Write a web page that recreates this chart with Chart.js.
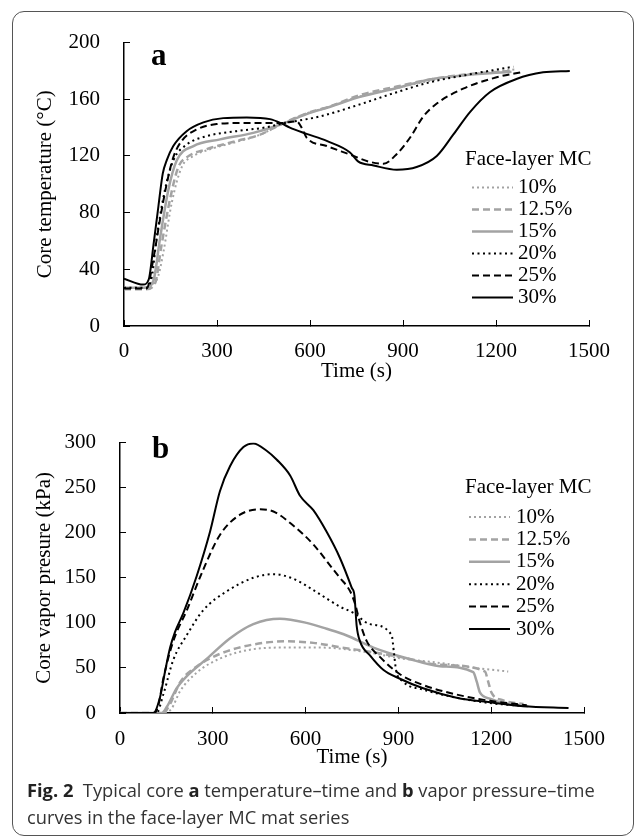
<!DOCTYPE html>
<html>
<head>
<meta charset="utf-8">
<script src="https://cdn.jsdelivr.net/npm/chart.js@4.4.1/dist/chart.umd.min.js"></script>
<style>
  body { margin: 0; background: #fff; width: 636px; height: 839px; position: relative; overflow: hidden; }
  #frame { position: absolute; left: 12px; top: 11px; width: 622px; height: 825px; box-sizing: border-box;
           border: 1.5px solid #555; border-radius: 12px; }
  #tempChart { position: absolute; left: 0; top: 0; }
  #presChart { position: absolute; left: 0; top: 400px; }
  #caption { position: absolute; left: 27px; top: 776px; width: 605px; font-family: "Open Sans"; font-size: 18.3px;
             line-height: 27px; color: #333; white-space: nowrap; }
  #caption b { color: #222; }
</style>
</head>
<body>
<div id="frame"></div>
<canvas id="tempChart" width="636" height="400"></canvas>
<canvas id="presChart" width="636" height="380"></canvas>
<div id="caption"><b>Fig. 2</b>&nbsp; Typical core <b>a</b> temperature–time and <b>b</b> vapor pressure–time<br>curves in the face-layer MC mat series</div>

<script>
// --- Series labels ---
const seriesLabels = ["10%", "12.5%", "15%", "20%", "25%", "30%"];
const legendTitle = "Face-layer MC";

// --- Core temperature (°C) vs time (s) ---
const temp10 = [[0,27],[60,27],[90,29],[110,35],[127,52],[154,87],[186,112],[224,120],[267,124],[363,130],[439,135],[503,142],[589,150],[665,155],[761,162],[880,168],[987,173],[1100,177],[1260,181]];
const temp125 = [[0,26],[70,26],[100,30],[121,57],[148,89],[175,112],[202,119],[267,124.8],[363,130.6],[439,135],[503,142],[589,150],[665,155],[761,163],[880,169],[987,174],[1100,177.5],[1250,180]];
const temp15 = [[0,27],[70,27],[95,32],[116,61.5],[143,96],[170,116.8],[224,127],[310,131.7],[417,136.3],[503,142],[589,149.5],[665,154.7],[761,161.7],[880,168],[987,174],[1100,177],[1250,179.4]];
const temp20 = [[0,27],[70,27],[90,35],[105,61.5],[132,96],[159,116.8],[202,128],[267,134],[363,137.5],[460,140.3],[514,143],[632,147.9],[761,156.4],[880,165],[987,172],[1100,177],[1256,183]];
const temp25 = [[0,26.5],[73,26.5],[95,47.7],[116,75],[138,100.6],[159,119],[186,130.6],[234,138.6],[299,142.5],[374,143.2],[503,143.2],[557,144.4],[573,140],[589,133],[654,127],[729,121],[790,116],[837,114.5],[880,121.4],[923,133],[966,148],[1009,157],[1094,167.5],[1202,175.5],[1288,179.4]];
const temp30 = [[0,33.4],[62,29.2],[80,33],[95,57],[111,84.5],[125,107.5],[138,117],[159,127],[202,137.5],[256,143.7],[320,146.7],[396,147.2],[471,146],[508,143],[535,140],[589,135.6],[654,130.6],[729,122.5],[756,116],[805,113.3],[880,110.3],[944,112.2],[1009,120],[1062,135],[1116,151],[1180,165],[1266,174.3],[1352,179],[1438,180]];

// --- Core vapor pressure (kPa) vs time (s) ---
const pres10 = [[0,0],[145,0],[167,5],[194,24],[248,44.8],[323,60.4],[431,70.8],[539,72.6],[647,72.6],[797,67.5],[900,61],[1034,55.5],[1142,50.3],[1255,46]];
const pres125 = [[0,0],[140,0],[162,10],[194,34],[248,51.7],[323,65.6],[431,76],[539,79.5],[625,77.8],[711,73],[819,67.4],[927,60.8],[1034,53.5],[1180,46],[1190,35],[1201,22.6],[1239,14],[1304,9.9]];
const pres15 = [[0,0],[135,0],[151,6.6],[183,27.4],[216,41],[280,60],[356,83],[431,98.6],[517,104.5],[603,100],[668,93.4],[733,86],[819,72.6],[927,60.8],[1034,52],[1142,45.4],[1153,35],[1164,22.6],[1196,15.9],[1250,9.9],[1320,7.5]];
const pres20 = [[0,0],[118,0],[140,20.5],[172,58.7],[216,86.5],[269,114],[345,135],[431,150],[496,154],[560,149],[647,131.6],[711,118],[755,111],[808,98.6],[878,86.5],[886,65.6],[892,48.6],[916,34.7],[980,26],[1088,17],[1196,11],[1315,7.6]];
const pres25 = [[0,0],[112,0],[125,10],[140,38],[172,79.5],[216,114],[269,159],[323,197.5],[388,220],[453,226],[496,223.6],[560,208],[625,187],[690,159],[711,150],[744,135],[760,121],[776,100],[798,79.5],[841,62],[905,43],[980,31],[1088,20.5],[1196,13.5],[1315,8.7]];
const pres30 = [[0,0],[108,0],[129,17],[145,45],[162,72.6],[178,90],[205,111],[248,152],[291,201],[323,246],[356,274],[399,295],[431,299],[474,291],[507,281],[550,263.5],[582,241],[625,225],[668,201],[711,172],[749,139],[758,130],[765,97],[776,79.5],[808,64],[851,48],[905,38],[980,27.4],[1088,17],[1196,11.8],[1304,7.6],[1450,5.6]];

// --- Estilos de linea ---
const GRAY = "#a3a3a3";
const styles = [
  { color: GRAY, width: 2, dash: [2, 3] },
  { color: GRAY, width: 2.5, dash: [7, 4] },
  { color: GRAY, width: 2.5, dash: [] },
  { color: "#000", width: 2, dash: [2, 3.5] },
  { color: "#000", width: 2, dash: [7, 4] },
  { color: "#000", width: 2, dash: [] },
];

const SERIF = '"Liberation Serif", serif';

function makeDatasets(series) {
  return series.map((pts, i) => ({
    label: seriesLabels[i],
    data: pts.map(p => ({ x: p[0], y: p[1] })),
    borderColor: styles[i].color,
    borderWidth: styles[i].width,
    borderDash: styles[i].dash,
    pointRadius: 0,
    fill: false,
    cubicInterpolationMode: "monotone",
    order: 5 - i,
  }));
}

// leyenda + letra del panel
const panelPlugin = {
  id: "panelLegend",
  afterDatasetsDraw(chart, args, o) {
    const ctx = chart.ctx;
    ctx.save();
    ctx.fillStyle = "#000";
    ctx.textBaseline = "middle";
    ctx.textAlign = "left";
    ctx.font = "21px " + SERIF;
    ctx.fillText(legendTitle, o.x, o.titleY);
    chart.data.datasets.forEach((ds, i) => {
      const y = o.y0 + i * o.step;
      ctx.beginPath();
      ctx.strokeStyle = ds.borderColor;
      ctx.lineWidth = ds.borderWidth;
      ctx.setLineDash(ds.borderDash);
      ctx.moveTo(o.lineX0, y);
      ctx.lineTo(o.lineX1, y);
      ctx.stroke();
      ctx.setLineDash([]);
      ctx.fillText(ds.label, o.textX, y);
    });
    ctx.font = "bold 31px " + SERIF;
    ctx.textBaseline = "alphabetic";
    ctx.fillText(o.letter, o.letterX, o.letterY);
    ctx.restore();
  }
};

function makeChart(id, series, cfg) {
  return new Chart(document.getElementById(id), {
    type: "line",
    data: { datasets: makeDatasets(series) },
    plugins: [panelPlugin],
    options: {
      responsive: false,
      animation: false,
      devicePixelRatio: 1,
      layout: { padding: cfg.padding },
      plugins: { legend: { display: false }, tooltip: { enabled: false }, panelLegend: cfg.legend },
      scales: {
        x: {
          type: "linear", min: 0, max: 1500,
          ticks: { stepSize: 300, color: "#000", font: { family: SERIF, size: 21 }, padding: cfg.xPad, maxRotation: 0,
                   callback: v => String(v) },
          grid: { drawOnChartArea: false, tickLength: -6, color: "#000", lineWidth: 1 },
          border: { color: "#000", width: 1.5 },
          title: { display: true, text: "Time (s)", color: "#000", font: { family: SERIF, size: 21 }, padding: { top: 0, bottom: cfg.xTitlePad } },
          afterFit: s => { s.height = cfg.xHeight; }
        },
        y: {
          type: "linear", min: 0, max: cfg.yMax,
          ticks: { stepSize: cfg.yStep, color: "#000", font: { family: SERIF, size: 21 }, padding: 30,
                   callback: v => String(v) },
          grid: { drawOnChartArea: false, tickLength: -6, color: "#000", lineWidth: 1 },
          border: { color: "#000", width: 1.5 },
          title: { display: true, text: cfg.yTitle, color: "#000", font: { family: SERIF, size: 21 }, padding: { top: cfg.yTitlePad, bottom: 0 } },
          afterFit: s => { s.width = cfg.yWidth; }
        }
      }
    }
  });
}

makeChart("tempChart", [temp10, temp125, temp15, temp20, temp25, temp30], {
  padding: { left: 0, top: 37, right: 47, bottom: 0 },
  xHeight: 74, xPad: 19, xTitlePad: 16,
  yWidth: 124, yMax: 200, yStep: 40, yTitle: "Core temperature (°C)", yTitlePad: 33,
  legend: { x: 465, titleY: 159, lineX0: 472, lineX1: 513, textX: 518, y0: 187.5, step: 22, letter: "a", letterX: 151, letterY: 65 }
});

makeChart("presChart", [pres10, pres125, pres15, pres20, pres25, pres30], {
  padding: { left: 0, top: 24, right: 52, bottom: 0 },
  xHeight: 67, xPad: 20, xTitlePad: 10,
  yWidth: 120, yMax: 300, yStep: 50, yTitle: "Core vapor presure (kPa)", yTitlePad: 32,
  legend: { x: 465, titleY: 87, lineX0: 469, lineX1: 510, textX: 516, y0: 117, step: 22.4, letter: "b", letterX: 152, letterY: 58 }
});
</script>
</body>
</html>
